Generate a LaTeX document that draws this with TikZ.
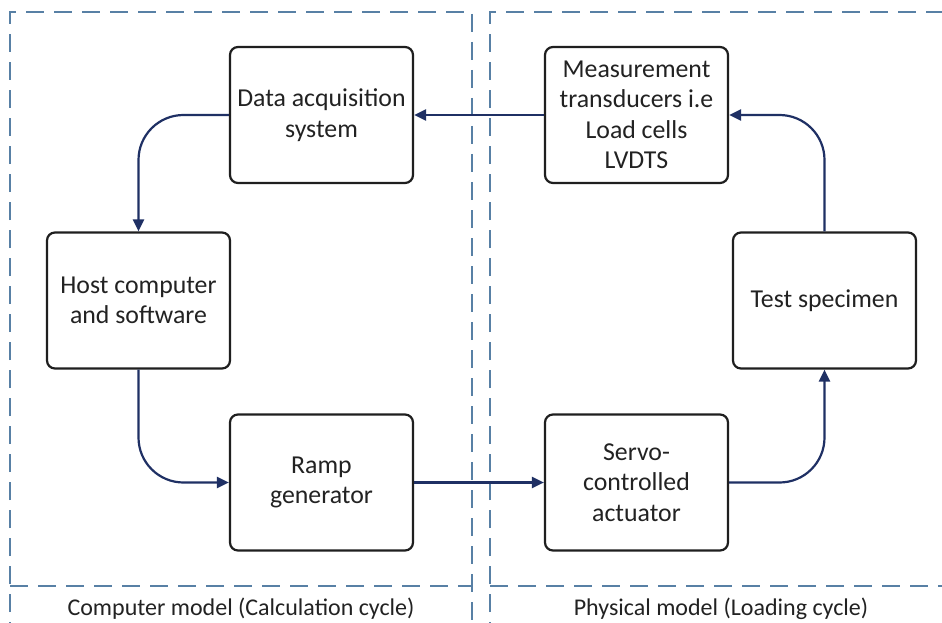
\documentclass[tikz,border=0pt]{standalone}
\usepackage{fontspec}
\setmainfont{Carlito}
\usetikzlibrary{arrows.meta}
\definecolor{navy}{RGB}{31,48,100}
\definecolor{dashblue}{RGB}{88,128,165}
\definecolor{txt}{RGB}{34,34,34}
\tikzset{
  blockbox/.style={draw=black!88, line width=2.2pt, rounded corners=8pt, fill=white,
    minimum width=183pt, minimum height=136pt, align=center, text=txt,
    font=\fontsize{25.8}{30.5}\selectfont, inner sep=2pt},
  flow/.style={draw=navy, line width=2.2pt, -{Triangle[length=12pt,width=11pt]}},
  region/.style={draw=dashblue, line width=1.7pt, dash pattern=on 18pt off 10pt},
  cyclelabel/.style={anchor=base, text=txt, font=\fontsize{24}{29}\selectfont, inner sep=0pt}
}
\begin{document}
\begin{tikzpicture}[x=1pt,y=-1pt]
\useasboundingbox (0,0) rectangle (942,623);
\clip (0,0) rectangle (942,623);
\fill[white] (0,0) rectangle (942,623);
% dashed regions
\draw[region] (10,640) -- (10,12) -- (472,12) -- (472,640);
\draw[region] (10,586) -- (472,586);
\draw[region] (490,640) -- (490,12) -- (960,12);
\draw[region] (490,586) -- (960,586);
\node[cyclelabel] (lblc) at (241,615.5) {Computer model (Calculation cycle)};
\node[cyclelabel] (lblp) at (721,615.5) {Physical model (Loading cycle)};
% blocks
\node[blockbox] (daq) at (321.5,115) {Data acquisition\\system};
\node[blockbox] (meas) at (636.5,115) {Measurement\\transducers i.e\\Load cells\\LVDTS};
\node[blockbox] (host) at (138.5,300.5) {Host computer\\and software};
\node[blockbox] (test) at (824.5,300.5) {Test specimen};
\node[blockbox] (ramp) at (321.5,482.5) {Ramp\\generator};
\node[blockbox] (servo) at (636.5,482.5) {Servo-\\controlled\\actuator};
% connectors
\draw[flow] (meas.west) -- (daq.east);
\draw[flow, rounded corners=45pt] (daq.west) -| (host.north);
\draw[flow, rounded corners=45pt] (host.south) |- (ramp.west);
\draw[flow] (ramp.east) -- (servo.west);
\draw[flow, rounded corners=45pt] (servo.east) -| (test.south);
\draw[flow, rounded corners=45pt] (test.north) |- (meas.east);
\end{tikzpicture}
\end{document}
